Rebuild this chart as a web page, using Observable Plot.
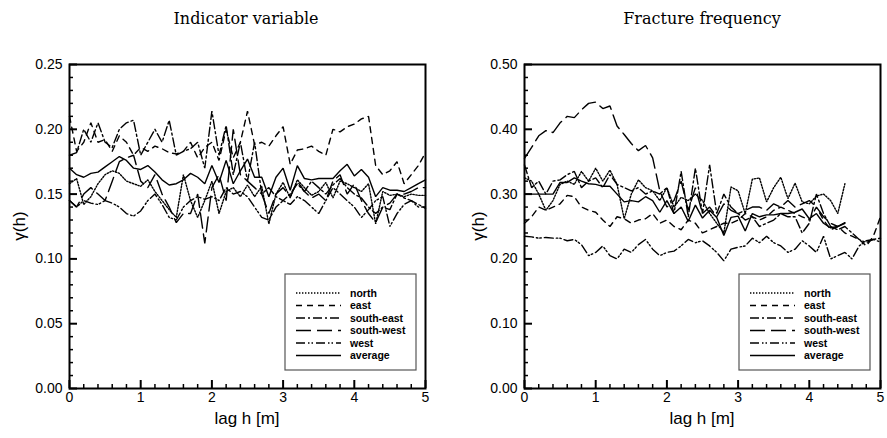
<!DOCTYPE html>
<html><head><meta charset="utf-8">
<script src="https://cdn.jsdelivr.net/npm/d3@7"></script>
<script src="https://cdn.jsdelivr.net/npm/@observablehq/plot@0.6"></script>
<style>
body{margin:0;background:#fff;}
#wrap{position:relative;width:887px;height:438px;overflow:hidden;font-family:"Liberation Sans",Arial,sans-serif;color:#000;}
.title{position:absolute;font-family:"DejaVu Serif",serif;font-size:16px;transform:translateX(-50%);white-space:nowrap;line-height:1;}
.ylab{position:absolute;font-size:17px;transform:translate(-50%,-50%) rotate(-90deg);white-space:nowrap;line-height:1;}
.xlab{position:absolute;font-size:17px;transform:translateX(-50%);white-space:nowrap;line-height:1;}
.plot{position:absolute;}
</style></head>
<body><div id="wrap"></div>
<script>
// ---- data ----
const lag = [0,0.1,0.2,0.3,0.4,0.5,0.6,0.7,0.8,0.9,1,1.1,1.2,1.3,1.4,1.5,1.6,1.7,1.8,1.9,2,2.1,2.2,2.3,2.4,2.5,2.6,2.7,2.8,2.9,3,3.1,3.2,3.3,3.4,3.5,3.6,3.7,3.8,3.9,4,4.1,4.2,4.3,4.4,4.5,4.6,4.7,4.8,4.9,5];
const seriesNames = ["north","east","south-east","south-west","west","average"];
const panelTitles = ["Indicator variable","Fracture frequency"];
const yLabel = "γ(h)";
const xLabel = "lag h [m]";
const xTicks = [0,1,2,3,4,5];
const xMinorTicks = [0.2,0.4,0.6,0.8,1.2,1.4,1.6,1.8,2.2,2.4,2.6,2.8,3.2,3.4,3.6,3.8,4.2,4.4,4.6,4.8];
const indYTicks = [0,0.05,0.10,0.15,0.20,0.25];
const fracYTicks = [0,0.10,0.20,0.30,0.40,0.50];

// Indicator variable
const indNorth = [0.158,0.162,0.142,0.148,0.158,0.165,0.168,0.166,0.160,0.158, 0.156,0.161,0.152,0.145,0.138,0.132,0.165,0.145,0.132,0.145, 0.160,0.135,0.152,0.155,0.148,0.157,0.148,0.156,0.127,0.150, 0.159,0.147,0.161,0.155,0.149,0.152,0.159,0.147,0.160,0.158, 0.155,0.152,0.158,0.127,0.152,0.149,0.150,0.148,0.150,0.149, 0.149];
const indEast = [0.210,0.183,0.190,0.205,0.190,0.192,0.183,0.195,0.190,0.180, 0.186,0.183,0.187,0.185,0.182,0.181,0.183,0.190,0.178,0.186, 0.190,0.176,0.200,0.178,0.190,0.214,0.188,0.190,0.187,0.195, 0.202,0.173,0.184,0.185,0.187,0.183,0.180,0.200,0.198,0.202, 0.204,0.208,0.210,0.172,0.165,0.168,0.175,0.158,0.165,0.172, 0.182];
const indSouthEast = [0.180,0.182,0.200,0.190,0.205,0.190,0.186,0.200,0.205,0.207, 0.180,0.190,0.200,0.190,0.207,0.180,0.183,0.185,0.190,0.170, 0.214,0.180,0.203,0.165,0.190,0.160,0.190,0.150,0.155,0.148, 0.145,0.150,0.158,0.152,0.160,0.155,0.150,0.157,0.162,0.155, 0.150,0.147,0.140,0.135,0.140,0.138,0.150,0.147,0.145,0.142, 0.139];
const indSouthWest = [0.145,0.140,0.150,0.155,0.150,0.145,0.160,0.175,0.178,0.180, 0.160,0.155,0.165,0.150,0.140,0.128,0.135,0.135,0.150,0.112, 0.155,0.165,0.145,0.200,0.165,0.160,0.155,0.150,0.135,0.150, 0.155,0.148,0.160,0.152,0.147,0.150,0.145,0.160,0.165,0.150, 0.158,0.145,0.135,0.128,0.140,0.143,0.150,0.150,0.152,0.155, 0.155];
const indWest = [0.145,0.140,0.145,0.143,0.142,0.145,0.143,0.140,0.135,0.133, 0.137,0.145,0.150,0.142,0.132,0.130,0.140,0.145,0.148,0.146, 0.148,0.145,0.155,0.150,0.152,0.148,0.140,0.132,0.130,0.140, 0.145,0.142,0.148,0.145,0.140,0.135,0.145,0.155,0.150,0.145, 0.140,0.132,0.138,0.145,0.148,0.125,0.135,0.142,0.145,0.140, 0.140];
const indAverage = [0.170,0.165,0.163,0.166,0.167,0.171,0.175,0.179,0.176,0.170, 0.169,0.172,0.167,0.161,0.157,0.158,0.161,0.166,0.163,0.158, 0.172,0.159,0.176,0.158,0.168,0.177,0.163,0.163,0.148,0.163, 0.170,0.153,0.172,0.162,0.161,0.162,0.162,0.162,0.168,0.173, 0.164,0.169,0.163,0.148,0.155,0.153,0.153,0.152,0.155,0.158, 0.161];

// Fracture frequency
const fracNorth = [0.325,0.320,0.300,0.275,0.290,0.315,0.320,0.315,0.335,0.320, 0.340,0.320,0.337,0.315,0.262,0.300,0.322,0.310,0.305,0.290, 0.310,0.280,0.295,0.290,0.300,0.290,0.270,0.255,0.240,0.311, 0.305,0.270,0.323,0.325,0.288,0.310,0.326,0.293,0.317,0.288, 0.285,0.297,0.300,0.290,0.270,0.316];
const fracEast = [0.255,0.265,0.280,0.275,0.280,0.285,0.298,0.296,0.280,0.275, 0.272,0.260,0.250,0.265,0.262,0.255,0.260,0.262,0.270,0.255, 0.260,0.250,0.245,0.260,0.255,0.240,0.245,0.250,0.255,0.255, 0.260,0.270,0.265,0.260,0.265,0.275,0.280,0.275,0.270,0.265, 0.260,0.280,0.260,0.245,0.250,0.240,0.235,0.230,0.220,0.235, 0.265];
const fracSouthEast = [0.345,0.310,0.320,0.300,0.320,0.322,0.330,0.335,0.310,0.320, 0.325,0.310,0.330,0.315,0.310,0.305,0.310,0.300,0.305,0.300, 0.310,0.270,0.335,0.265,0.340,0.270,0.345,0.270,0.300,0.280, 0.270,0.260,0.265,0.250,0.255,0.260,0.270,0.265,0.265,0.240, 0.255,0.300,0.270,0.250,0.245,0.250,0.240,0.230,0.225,0.230, 0.232];
const fracSouthWest = [0.355,0.372,0.390,0.398,0.395,0.410,0.420,0.418,0.430,0.440, 0.442,0.432,0.436,0.405,0.392,0.378,0.367,0.375,0.356,0.305, 0.280,0.290,0.320,0.275,0.310,0.270,0.280,0.265,0.285,0.275, 0.270,0.275,0.280,0.280,0.275,0.285,0.280,0.290,0.280,0.285, 0.290,0.280,0.265,0.255,0.250,0.255];
const fracWest = [0.235,0.234,0.232,0.233,0.232,0.232,0.228,0.230,0.222,0.205, 0.210,0.220,0.205,0.200,0.215,0.210,0.222,0.230,0.215,0.205, 0.210,0.212,0.220,0.230,0.225,0.228,0.220,0.210,0.197,0.215, 0.218,0.220,0.232,0.225,0.235,0.225,0.220,0.210,0.215,0.228, 0.220,0.210,0.235,0.200,0.205,0.210,0.200,0.220,0.228,0.230, 0.226];
const fracAverage = [0.300,0.300,0.300,0.300,0.300,0.318,0.318,0.325,0.320,0.316, 0.315,0.312,0.312,0.300,0.288,0.290,0.288,0.296,0.290,0.272, 0.290,0.270,0.280,0.258,0.283,0.263,0.275,0.264,0.236,0.264, 0.266,0.243,0.270,0.265,0.268,0.268,0.270,0.270,0.272,0.277, 0.262,0.270,0.255,0.248,0.250,0.256];

// ---- styles ----
const dashes = {
  "north": "1.4,1.6",
  "east": "6,5",
  "south-east": "9,3,2,3",
  "south-west": "15,6",
  "west": "9,3,1.5,2,1.5,3",
  "average": null
};

const wrap = document.getElementById("wrap");

function addDiv(cls, text, style) {
  const d = document.createElement("div");
  d.className = cls; d.textContent = text;
  Object.assign(d.style, style);
  wrap.appendChild(d);
}

function panel({values, yTicks, yMax, yMinorStep, left, width, marginLeft, marginRight, legendLeft}) {
  const height = 393, marginTop = 24, marginBottom = 45;
  const innerW = width - marginLeft - marginRight, innerH = height - marginTop - marginBottom;
  const yMinor = [];
  for (let i = 0; i < yTicks.length - 1; i++) {
    for (let k = 1; k < 5; k++) yMinor.push(yTicks[i] + k * yMinorStep);
  }
  const marks = [
    Plot.ruleY(yMinor, {insetRight: innerW - 4, strokeWidth: 1.5}),
    Plot.ruleY(yTicks, {insetRight: innerW - 8, strokeWidth: 2}),
    Plot.ruleX(xMinorTicks, {insetTop: innerH - 4, strokeWidth: 1.5}),
    Plot.ruleX(xTicks, {insetTop: innerH - 8, strokeWidth: 2})
  ];
  seriesNames.forEach((name, j) => {
    const vals = values[j];
    const rows = vals.map((v, i) => ({h: lag[i], v}));
    marks.push(Plot.line(rows, {x: "h", y: "v", stroke: "#000", strokeWidth: 1.4,
      strokeDasharray: dashes[name], strokeLinejoin: "miter"}));
  });
  marks.push(Plot.axisY(yTicks, {tickSize: 0, tickPadding: 7, tickFormat: d3.format(".2f"), label: null}));
  marks.push(Plot.axisX(xTicks, {tickSize: 0, tickPadding: 4, tickFormat: d3.format("d"), label: null}));
  marks.push(Plot.frame({stroke: "#000", strokeWidth: 2}));
  const svg = Plot.plot({
    width, height, marginTop, marginBottom, marginLeft, marginRight,
    x: {domain: [0, 5]},
    y: {domain: [0, yMax]},
    style: {fontSize: "14px", fontFamily: "'Liberation Sans', Arial, sans-serif", background: "transparent", color: "#000"},
    marks
  });
  svg.classList.add("plot");
  svg.style.left = left + "px";
  svg.style.top = "40px";
  wrap.appendChild(svg);

  // legend
  const lx = legendLeft, ly = 274, lw = 131, lh = 96;
  const leg = d3.create("svg").attr("width", lw + 2).attr("height", lh + 2)
    .style("position", "absolute").style("left", (lx - 1) + "px").style("top", (ly - 1) + "px");
  leg.append("rect").attr("x", 1).attr("y", 1).attr("width", lw).attr("height", lh)
    .attr("fill", "#fff").attr("stroke", "#555").attr("stroke-width", 1.2);
  seriesNames.forEach((name, j) => {
    const y = 20 + j * 12.5;
    leg.append("line").attr("x1", 12).attr("x2", 57).attr("y1", y).attr("y2", y)
      .attr("stroke", "#000").attr("stroke-width", 1.4)
      .attr("stroke-dasharray", dashes[name]);
    leg.append("text").attr("x", 66).attr("y", y).attr("dy", "0.35em")
      .attr("font-size", 10.5).attr("font-weight", "bold")
      .attr("font-family", "'Liberation Sans', Arial, sans-serif").text(name);
  });
  wrap.appendChild(leg.node());
}

panel({values: [indNorth, indEast, indSouthEast, indSouthWest, indWest, indAverage],
  yTicks: indYTicks, yMax: 0.25, yMinorStep: 0.01, left: 0, width: 440, marginLeft: 69, marginRight: 15, legendLeft: 285});
panel({values: [fracNorth, fracEast, fracSouthEast, fracSouthWest, fracWest, fracAverage],
  yTicks: fracYTicks, yMax: 0.5, yMinorStep: 0.02, left: 445, width: 442, marginLeft: 79, marginRight: 7, legendLeft: 739});

addDiv("title", panelTitles[0], {left: "246px", top: "11px"});
addDiv("title", panelTitles[1], {left: "702px", top: "11px"});
addDiv("ylab", yLabel, {left: "19px", top: "226px"});
addDiv("ylab", yLabel, {left: "478px", top: "226px"});
addDiv("xlab", xLabel, {left: "247px", top: "410px"});
addDiv("xlab", xLabel, {left: "702px", top: "410px"});
</script>
</body></html>
